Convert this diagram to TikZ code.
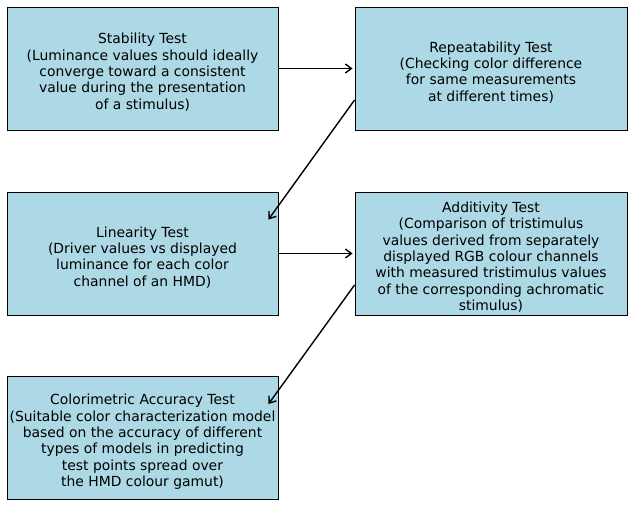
\documentclass[tikz,border=0pt]{standalone}
\usepackage{fontspec}
\setmainfont{DejaVu Sans}
\usetikzlibrary{arrows.meta,calc}
\definecolor{lb}{HTML}{ADD8E6}
\newcommand\topgap{\rule{0pt}{18pt}}
\begin{document}
\begin{tikzpicture}[x=1pt,y=-1pt,
  box/.style={draw=black,line width=0.9pt,fill=lb,minimum width=271pt,minimum height=123pt,align=center,inner sep=0pt,font=\fontsize{13.9}{16.3}\selectfont},
  conn/.style={draw=black,line width=1.4pt,-{Straight Barb[length=6pt,width=9pt,line width=1.4pt]}}]
\useasboundingbox (0,0) rectangle (639,514);
\node[box] (stab) at (142.5,68.5) {\topgap Stability Test\\(Luminance values should ideally\\converge toward a consistent\\value during the presentation\\of a stimulus)};
\node[box,minimum width=272pt] (rep) at (491,68.5) {\topgap Repeatability Test\\(Checking color difference\\for same measurements\\at different times)};
\node[box] (lin) at (142.5,253.5) {\topgap Linearity Test\\(Driver values vs displayed\\luminance for each color\\channel of an HMD)};
\node[box,minimum width=272pt] (add) at (491,253.5) {\topgap Additivity Test\\(Comparison of tristimulus\\values derived from separately\\displayed RGB colour channels\\with measured tristimulus values\\of the corresponding achromatic\\stimulus)};
\node[box] (col) at (142.5,438) {\topgap Colorimetric Accuracy Test\\(Suitable color characterization model\\based on the accuracy of different\\types of models in predicting\\test points spread over\\the HMD colour gamut)};
\draw[conn] (stab.east) -- ([xshift=-2pt]rep.west);
\draw[conn] ([yshift=-31.5pt]rep.west) -- ([xshift=-10pt,yshift=-28pt]lin.north east);
\draw[conn] (lin.east) -- ([xshift=-2pt]add.west);
\draw[conn] ([yshift=-31.5pt]add.west) -- ([xshift=-10pt,yshift=-28pt]col.north east);
\end{tikzpicture}
\end{document}
